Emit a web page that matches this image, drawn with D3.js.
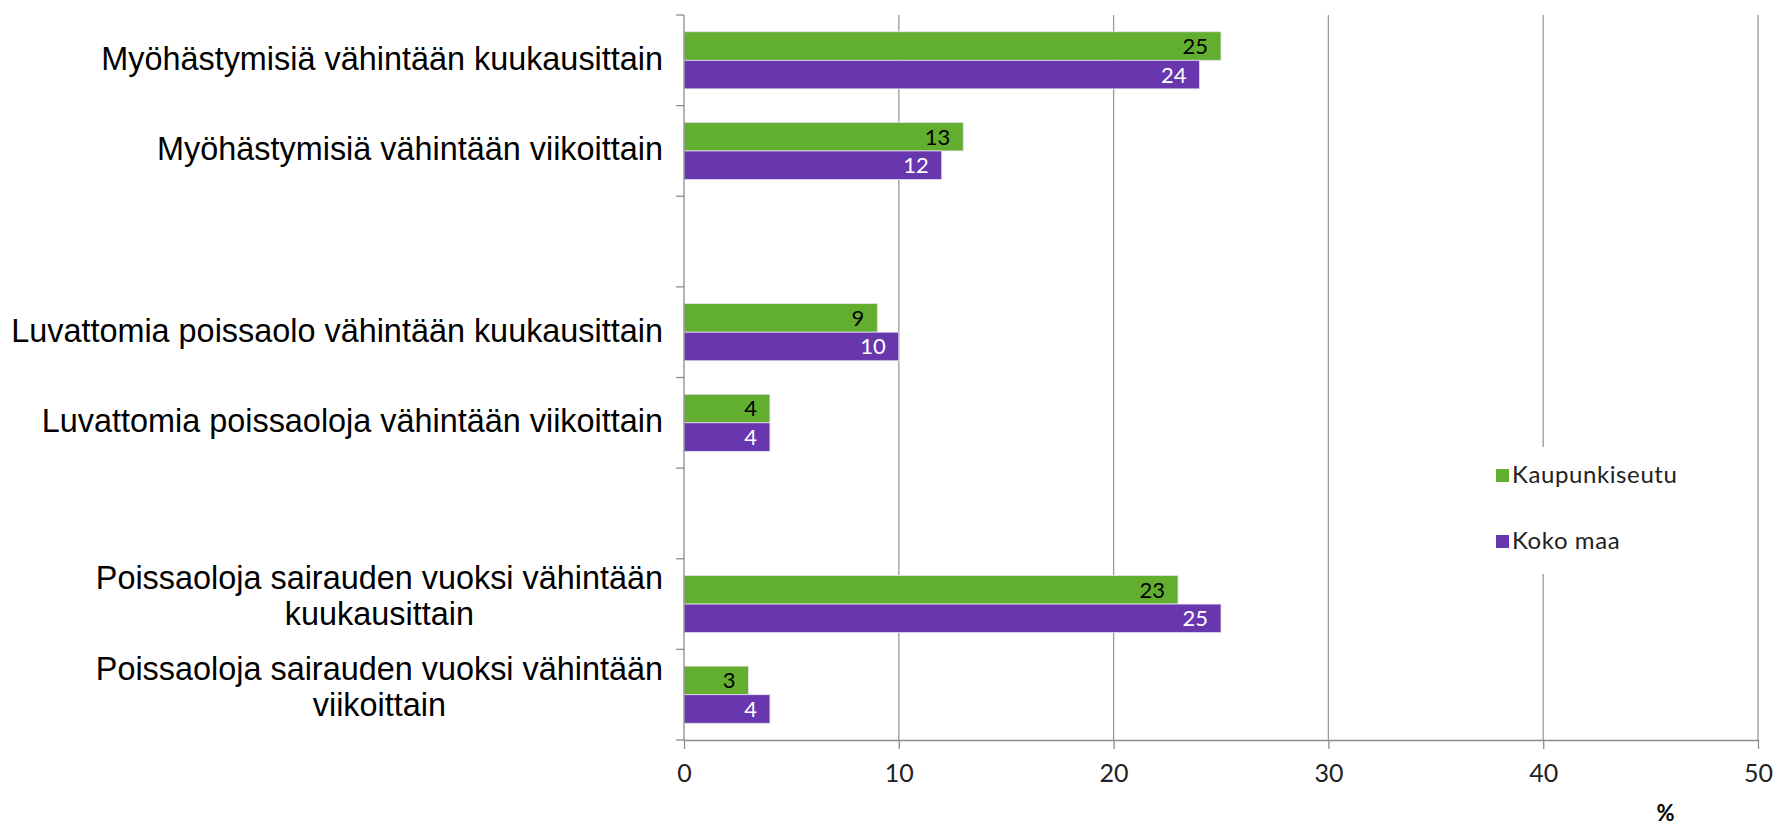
<!DOCTYPE html>
<html>
<head>
<meta charset="utf-8">
<script src="https://cdn.jsdelivr.net/npm/d3@7"></script>
<style>
  body { margin: 0; background: #fff; }
  .cat { font-family: 'Liberation Sans', Arial, sans-serif; font-size: 32.4px; fill: #000; }
  .num { font-family: Lato, 'Open Sans', sans-serif; }
</style>
</head>
<body>
<svg id="chart"></svg>
<script>
// categories, blank slots are the gaps between groups
const categories = [
  'Myöhästymisiä vähintään kuukausittain',
  'Myöhästymisiä vähintään viikoittain',
  '',
  'Luvattomia poissaolo vähintään kuukausittain',
  'Luvattomia poissaoloja vähintään viikoittain',
  '',
  'Poissaoloja sairauden vuoksi vähintään\nkuukausittain',
  'Poissaoloja sairauden vuoksi vähintään\nviikoittain'
];
const seriesNames = ['Kaupunkiseutu', 'Koko maa'];
const kaupunkiseutu = [25, 13, null, 9, 4, null, 23, 3];
const kokoMaa = [24, 12, null, 10, 4, null, 25, 4];
const xTicks = [0, 10, 20, 30, 40, 50];

const colors = ['#62ae2f', '#6837ad'];
const labelColors = ['#000', '#fff'];

const width = 1782, height = 825;
const plotLeft = 684, plotRight = 1758, plotTop = 15, plotBottom = 740;

const svg = d3.select('#chart').attr('width', width).attr('height', height);

const x = d3.scaleLinear().domain([0, 50]).range([plotLeft, plotRight]);
const y = d3.scaleBand()
  .domain(d3.range(categories.length))
  .range([plotTop, plotBottom])
  .paddingInner(0.37)
  .paddingOuter(0.185);
const sub = d3.scaleBand().domain([0, 1]).range([0, y.bandwidth()]);

//GRIDLINES
svg.append('g')
  .selectAll('line')
  .data(xTicks.slice(1))
  .join('line')
  .attr('x1', (d) => x(d))
  .attr('x2', (d) => x(d))
  .attr('y1', plotTop)
  .attr('y2', plotBottom)
  .attr('stroke', '#9a9a9a')
  .attr('stroke-width', 1.3);

//BARS
const rows = categories.map((c, i) => ({ i, vals: [kaupunkiseutu[i], kokoMaa[i]] }));

const groups = svg.append('g')
  .selectAll('g')
  .data(rows.filter((r) => r.vals[0] != null))
  .join('g')
  .attr('transform', (d) => `translate(0,${y(d.i)})`);

groups.selectAll('rect')
  .data((d) => d.vals)
  .join('rect')
  .attr('x', x(0))
  .attr('y', (d, j) => sub(j))
  .attr('width', (d) => x(d) - x(0))
  .attr('height', sub.bandwidth())
  .attr('fill', (d, j) => colors[j])
  .attr('stroke', '#e8e0f0')
  .attr('stroke-width', 0.8);

groups.selectAll('text')
  .data((d) => d.vals)
  .join('text')
  .classed('num', true)
  .attr('x', (d) => x(d) - 13)
  .attr('y', (d, j) => sub(j) + sub.bandwidth() / 2)
  .attr('dy', '0.36em')
  .attr('text-anchor', 'end')
  .attr('font-size', '22px')
  .attr('fill', (d, j) => labelColors[j])
  .text((d) => d);

//AXES
const axisColor = '#8c8c8c';
svg.append('line')
  .attr('x1', x(0)).attr('x2', x(0))
  .attr('y1', plotTop).attr('y2', plotBottom)
  .attr('stroke', axisColor).attr('stroke-width', 1.3);

const boundaries = d3.range(categories.length + 1).map((i) => plotTop + i * y.step());
svg.append('g')
  .selectAll('line')
  .data(boundaries)
  .join('line')
  .attr('x1', x(0) - 8).attr('x2', x(0))
  .attr('y1', (d) => d).attr('y2', (d) => d)
  .attr('stroke', axisColor).attr('stroke-width', 1.3);

const xAxis = svg.append('g')
  .attr('transform', `translate(0,${plotBottom})`)
  .call(d3.axisBottom(x).tickValues(xTicks).tickSize(9).tickPadding(15).tickSizeOuter(0));
xAxis.select('.domain').attr('stroke', axisColor).attr('stroke-width', 1.3);
xAxis.selectAll('.tick line').attr('stroke', axisColor).attr('stroke-width', 1.3);
xAxis.selectAll('.tick text')
  .classed('num', true)
  .attr('font-size', '25px')
  .attr('fill', '#222');

svg.append('text')
  .classed('num', true)
  .attr('x', x(45.7))
  .attr('y', 821)
  .attr('text-anchor', 'middle')
  .attr('font-size', '22px')
  .attr('font-weight', 'bold')
  .text('%');

//CATEGORY LABELS
const labelRight = x(0) - 21;
categories.forEach((c, i) => {
  if (!c) return;
  const lines = c.split('\n');
  const g = svg.append('g');
  const lineH = 36;
  // wrapped labels sit a little higher than the band centre
  const cy = y(i) + y.bandwidth() / 2 - (lines.length > 1 ? 8 : 2);
  const texts = lines.map((line, k) =>
    g.append('text')
      .classed('cat', true)
      .attr('y', cy + (k - (lines.length - 1) / 2) * lineH)
      .attr('dy', '0.35em')
      .attr('text-anchor', 'middle')
      .text(line)
  );
  const maxW = d3.max(texts, (t) => t.node().getComputedTextLength());
  texts.forEach((t) => t.attr('x', labelRight - maxW / 2));
});

//LEGEND
const legend = svg.append('g').attr('transform', 'translate(1492,447)');
legend.append('rect')
  .attr('x', 0).attr('y', 0)
  .attr('width', 210).attr('height', 127)
  .attr('fill', '#fff');
seriesNames.forEach((name, j) => {
  const ly = 28 + j * 66;
  legend.append('rect')
    .attr('x', 4).attr('y', ly - 6)
    .attr('width', 13).attr('height', 13)
    .attr('fill', colors[j]);
  legend.append('text')
    .classed('num', true)
    .attr('x', 20).attr('y', ly)
    .attr('dy', '0.35em')
    .attr('font-size', '24px')
    .attr('letter-spacing', '0.6px')
    .attr('fill', '#222')
    .text(name);
});
</script>
</body>
</html>
